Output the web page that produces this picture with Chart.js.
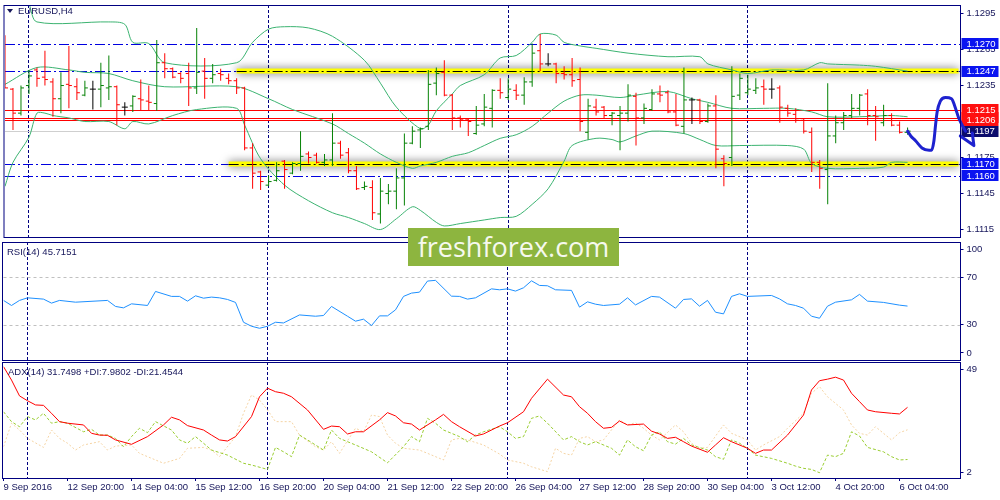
<!DOCTYPE html>
<html>
<head>
<meta charset="utf-8">
<script src="https://cdn.jsdelivr.net/npm/chart.js@4.4.1/dist/chart.umd.min.js"></script>
<style>
  html, body { margin: 0; padding: 0; background: #fff; }
  #wrap { position: relative; width: 1000px; height: 500px; overflow: hidden; font-family: "Liberation Sans", Arial, sans-serif; }
  .pane { position: absolute; left: 0; width: 1000px; }
  .txt { position: absolute; font-size: 9.5px; line-height: 12px; color: #15155a; white-space: nowrap; }
  .tri { position: absolute; left: 7px; top: 9px; width: 0; height: 0; border-left: 3px solid transparent; border-right: 3px solid transparent; border-top: 4px solid #15155a; }
  #logo { position: absolute; left: 408px; top: 228px; width: 211px; height: 38px; background: #8db53f; color: #f6f9ee;
          font-family: "Open Sans", sans-serif; font-size: 27px; line-height: 38px; text-align: center; }
</style>
</head>
<body>
<div id="wrap">
  <div class="pane" style="top:0;height:242px"><canvas id="price"></canvas></div>
  <div class="pane" style="top:241px;height:121px"><canvas id="rsi"></canvas></div>
  <div class="pane" style="top:361px;height:139px"><canvas id="adx"></canvas></div>
  <div class="tri"></div>
  <div class="txt" style="left:18px;top:5px">EURUSD,H4</div>
  <div class="txt" style="left:7px;top:246px">RSI(14) 45.7151</div>
  <div class="txt" style="left:8px;top:366px">ADX(14) 31.7498 +DI:7.9802 -DI:21.4544</div>
  <div id="logo">freshforex.com</div>
</div>
<script>
// EURUSD H4, 9 Sep 2016 12:00 .. 6 Oct 2016 08:00 (one value per bar)
const open = [1.1263,1.1232,1.1212,1.1235,1.1248,1.1242,1.1238,1.1224,1.1236,1.1234,1.1227,1.1232,1.1232,1.1233,1.1234,1.1217,1.1218,1.1224,1.1222,1.1220,
  1.1254,1.1249,1.1245,1.1245,1.1233,1.1247,1.1241,1.1245,1.1241,1.1239,1.1233,1.1183,1.1163,1.1152,1.1156,1.1172,1.1162,1.1170,1.1178,1.1177,
  1.1171,1.1173,1.1187,1.1179,1.1164,1.1150,1.1150,1.1128,1.1145,1.1147,1.1158,1.1187,1.1198,1.1201,1.1237,1.1246,1.1227,1.1208,1.1207,1.1195,
  1.1203,1.1216,1.1231,1.1225,1.1231,1.1227,1.1238,1.1264,1.1253,1.1253,1.1245,1.1244,1.1240,1.1196,1.1217,1.1217,1.1210,1.1210,1.1212,1.1226,
  1.1208,1.1215,1.1228,1.1229,1.1213,1.1201,1.1223,1.1223,1.1205,1.1218,1.1174,1.1175,1.1227,1.1229,1.1231,1.1234,1.1232,1.1233,1.1216,1.1211,
  1.1206,1.1196,1.1171,1.1165,1.1193,1.1204,1.1210,1.1216,1.1228,1.1210,1.1204,1.1210,1.1202,1.1196];
const high = [1.1277,1.1233,1.1235,1.1248,1.1250,1.1264,1.1241,1.1246,1.1268,1.1241,1.1239,1.1239,1.1254,1.1260,1.1235,1.1221,1.1227,1.1240,1.1235,1.1273,
  1.1262,1.1250,1.1246,1.1254,1.1283,1.1258,1.1253,1.1249,1.1245,1.1241,1.1234,1.1187,1.1164,1.1160,1.1171,1.1173,1.1171,1.1197,1.1180,1.1179,
  1.1178,1.1212,1.1189,1.1183,1.1168,1.1155,1.1156,1.1158,1.1153,1.1166,1.1195,1.1201,1.1200,1.1248,1.1250,1.1256,1.1228,1.1210,1.1208,1.1218,
  1.1228,1.1232,1.1241,1.1241,1.1236,1.1242,1.1270,1.1278,1.1262,1.1254,1.1251,1.1258,1.1250,1.1224,1.1224,1.1218,1.1213,1.1218,1.1236,1.1229,
  1.1220,1.1232,1.1235,1.1231,1.1228,1.1250,1.1225,1.1224,1.1220,1.1227,1.1177,1.1251,1.1245,1.1244,1.1241,1.1240,1.1241,1.1235,1.1219,1.1216,
  1.1208,1.1200,1.1173,1.1237,1.1210,1.1213,1.1228,1.1228,1.1232,1.1218,1.1219,1.1212,1.1205,1.1200];
const low = [1.1233,1.1198,1.1210,1.1228,1.1234,1.1235,1.1209,1.1212,1.1216,1.1223,1.1226,1.1215,1.1217,1.1223,1.1202,1.1210,1.1213,1.1214,1.1214,1.1214,
  1.1241,1.1241,1.1237,1.1218,1.1228,1.1224,1.1237,1.1239,1.1236,1.1228,1.1181,1.1149,1.1148,1.1151,1.1155,1.1149,1.1161,1.1164,1.1170,1.1170,
  1.1168,1.1168,1.1174,1.1162,1.1148,1.1148,1.1123,1.1120,1.1136,1.1132,1.1135,1.1186,1.1183,1.1198,1.1227,1.1226,1.1198,1.1200,1.1193,1.1194,
  1.1201,1.1200,1.1224,1.1223,1.1223,1.1219,1.1234,1.1247,1.1251,1.1237,1.1240,1.1234,1.1197,1.1190,1.1210,1.1208,1.1202,1.1181,1.1205,1.1185,
  1.1203,1.1214,1.1221,1.1212,1.1201,1.1195,1.1203,1.1203,1.1204,1.1166,1.1151,1.1168,1.1223,1.1227,1.1228,1.1219,1.1224,1.1204,1.1209,1.1204,
  1.1195,1.1163,1.1149,1.1136,1.1187,1.1198,1.1208,1.1210,1.1202,1.1189,1.1201,1.1201,1.1195,1.1194];
const close = [1.1233,1.1212,1.1233,1.1243,1.1241,1.1240,1.1224,1.1235,1.1235,1.1229,1.1233,1.1232,1.1235,1.1234,1.1219,1.1217,1.1226,1.1223,1.1221,1.1254,
  1.1249,1.1242,1.1241,1.1233,1.1246,1.1241,1.1244,1.1244,1.1239,1.1233,1.1183,1.1162,1.1155,1.1155,1.1164,1.1165,1.1170,1.1176,1.1175,1.1171,
  1.1173,1.1187,1.1177,1.1164,1.1149,1.1151,1.1129,1.1147,1.1147,1.1158,1.1187,1.1197,1.1199,1.1236,1.1245,1.1227,1.1208,1.1207,1.1205,1.1202,
  1.1217,1.1231,1.1229,1.1232,1.1227,1.1238,1.1262,1.1253,1.1253,1.1245,1.1244,1.1239,1.1205,1.1218,1.1213,1.1210,1.1212,1.1212,1.1227,1.1208,
  1.1216,1.1228,1.1227,1.1213,1.1202,1.1223,1.1223,1.1205,1.1218,1.1182,1.1170,1.1226,1.1241,1.1232,1.1233,1.1232,1.1232,1.1217,1.1212,1.1206,
  1.1197,1.1171,1.1166,1.1193,1.1204,1.1210,1.1216,1.1227,1.1210,1.1209,1.1210,1.1202,1.1196,1.1197];

// Bollinger Bands (20), read at the bends of each curve
const bbUpperBars = [0,3,4,13,15,16,18,20,29,31,33,35,38,41,45,47,49,52,53,54,56,57,60,62,64,66,67,69,70,72,74,78,83,87,88,91,93,96,100,102,103,107,109,113];
const bbUpper = [1.1340,1.1303,1.1288,1.1288,1.1286,1.1271,1.1270,1.1254,1.1254,1.1271,1.1282,1.1284,1.1283,1.1276,1.1256,1.1237,1.1217,1.1199,1.1202,1.1214,
  1.1228,1.1235,1.1244,1.1258,1.1260,1.1271,1.1278,1.1277,1.1271,1.1268,1.1266,1.1262,1.1259,1.1259,1.1253,1.1248,1.1245,1.1248,1.1248,1.1254,
  1.1253,1.1252,1.1251,1.1247];
const bbMiddleBars = [0,4,8,10,13,16,20,29,33,36,41,43,45,47,49,51,52,54,56,58,60,62,64,66,68,70,72,74,77,79,83,86,88,91,95,98,101,103,107,111,113];
const bbMiddle = [1.1236,1.1250,1.1248,1.1246,1.1245,1.1239,1.1234,1.1234,1.1224,1.1215,1.1203,1.1195,1.1187,1.1178,1.1171,1.1166,1.1168,1.1171,1.1176,1.1179,
  1.1185,1.1191,1.1194,1.1201,1.1212,1.1222,1.1227,1.1227,1.1225,1.1227,1.1230,1.1224,1.1221,1.1216,1.1216,1.1216,1.1213,1.1209,1.1209,1.1210,1.1209];
const bbLowerBars = [0,1,3,4,5,6,8,10,13,15,16,18,21,24,29,30,32,35,38,41,43,45,47,49,51,52,54,55,57,60,62,64,66,68,70,71,74,76,77,79,81,85,87,89,92,98,100,101,103,107,110,111,113];
const bbLower = [1.1151,1.1171,1.1192,1.1212,1.1212,1.1210,1.1208,1.1205,1.1205,1.1199,1.1205,1.1203,1.1210,1.1215,1.1216,1.1202,1.1174,1.1152,1.1139,1.1129,
  1.1125,1.1120,1.1115,1.1124,1.1134,1.1131,1.1121,1.1118,1.1120,1.1123,1.1125,1.1126,1.1136,1.1149,1.1172,1.1185,1.1191,1.1190,1.1188,1.1193,
  1.1197,1.1195,1.1190,1.1185,1.1185,1.1185,1.1182,1.1170,1.1166,1.1166,1.1167,1.1171,1.1171];

// RSI(14)
const rsiBars = [0,1,2,3,5,6,7,9,13,14,15,16,18,19,21,22,23,24,25,26,27,28,29,30,31,32,33,34,35,37,39,40,41,43,44,45,46,47,48,49,50,51,52,53,54,56,57,58,59,
  61,62,63,64,65,66,67,68,69,71,72,73,74,75,77,78,79,81,82,84,85,86,87,88,89,90,91,92,93,96,97,98,99,100,101,102,103,104,106,107,108,110,112,113];
const rsiValues = [50.5,46.2,50.5,52.7,51.6,48.2,50.5,49.0,50.5,45.4,44.2,47.6,46.2,58.1,53.9,53.9,49.9,54.4,52.4,53.3,52.7,51.3,48.8,32.0,28.6,26.9,28.6,32.0,31.4,
  38.2,37.1,37.7,45.4,37.1,32.9,34.6,29.2,37.4,37.4,42.5,53.9,56.7,57.5,66.9,67.5,54.1,53.9,51.6,52.7,60.3,59.5,60.3,58.4,61.2,67.1,63.2,62.9,59.5,
  59.0,44.8,49.3,47.3,46.2,47.3,52.7,46.7,53.9,53.3,43.9,51.3,51.8,45.6,50.5,40.5,39.1,53.9,56.1,53.9,54.7,51.8,47.6,46.2,43.9,37.1,35.4,45.6,49.0,
  51.0,55.6,49.9,48.8,46.5,45.7];

// ADX(14), +DI, -DI
const adxBars = [0,1,2,3,4,5,6,7,8,10,11,12,13,14,16,18,20,21,22,23,25,26,27,28,29,31,32,33,34,35,36,38,40,41,42,43,44,45,47,48,49,50,51,52,54,55,56,57,59,60,
  62,63,65,66,68,70,71,72,73,74,75,76,77,78,80,81,82,83,84,85,86,88,89,90,91,93,94,95,96,98,100,101,102,103,104,105,106,107,108,109,111,112,113];
const adxValues = [50.2,44.1,36.9,34.7,32.8,32.6,29.0,25.2,24.5,23.7,19.9,19.1,19.0,16.9,14.9,18.4,23.7,27.2,26.0,23.4,21.4,19.1,16.9,16.4,18.4,27.5,36.5,40.4,38.8,
  38.1,36.5,30.5,21.7,23.2,22.9,19.6,20.6,20.6,26.0,29.3,27.8,24.7,24.1,21.4,26.0,28.5,25.2,22.9,18.7,19.6,23.2,24.7,29.7,35.8,44.5,37.3,36.5,32.0,
  29.0,25.2,22.2,22.6,25.5,23.7,24.1,20.9,19.6,17.6,18.1,16.1,14.1,11.3,14.6,17.9,16.1,13.1,10.8,12.3,12.3,19.1,28.2,39.6,43.8,44.5,45.4,44.1,38.1,
  34.3,30.5,29.7,29.0,28.7,31.7];
const plusBars = [0,1,2,3,4,5,6,7,8,10,11,12,13,14,15,16,17,18,19,21,22,23,24,25,26,28,30,31,33,34,35,36,37,38,40,41,42,44,46,48,50,51,52,53,54,55,57,58,59,60,
  62,63,64,65,66,67,68,70,71,72,73,74,76,77,78,79,80,81,82,83,84,85,86,88,89,90,91,92,93,94,96,98,99,100,101,102,103,104,105,106,107,108,110,111,112,113];
const plusDI = [29.7,25.2,22.9,27.5,26.0,29.0,24.5,25.2,24.5,20.6,21.7,19.1,19.1,17.6,13.8,18.4,22.2,20.2,25.2,21.4,16.9,15.4,18.4,15.4,12.3,10.0,6.3,5.5,3.5,13.5,
  11.5,9.3,19.1,16.9,12.3,21.4,17.6,14.6,11.5,6.5,13.8,18.4,16.1,26.7,24.5,21.4,18.4,16.1,19.1,20.6,22.9,20.6,17.6,18.4,26.7,27.8,24.5,16.9,18.4,16.1,
  14.6,16.1,13.1,10.0,16.9,13.8,12.0,19.1,20.6,16.1,15.0,17.6,14.6,12.3,9.3,8.1,16.9,15.4,13.1,10.0,8.5,6.3,5.0,4.0,3.5,2.0,10.0,9.3,10.8,20.6,
  18.7,13.5,11.5,9.3,7.8,8.0];
const minusBars = [0,1,2,3,5,6,7,8,9,10,12,13,14,16,17,19,20,22,23,25,26,27,29,30,31,32,33,34,36,37,39,40,41,42,44,45,46,47,48,49,50,52,53,55,56,57,58,60,62,63,
  65,66,68,69,70,71,72,73,74,75,77,78,79,80,81,82,84,85,86,87,88,90,91,93,94,95,97,98,100,101,102,103,105,106,107,108,109,110,111,112,113];
const minusDI = [13.8,24.5,21.4,17.6,13.5,21.4,17.6,15.4,12.3,14.6,16.1,12.3,14.1,14.6,10.8,7.8,6.3,8.5,13.1,13.5,12.3,9.3,18.4,29.0,37.3,35.0,30.5,25.2,25.2,19.1,
  13.8,12.3,16.1,10.8,22.2,20.6,28.2,27.5,19.1,15.4,13.1,12.3,10.8,7.8,16.9,17.6,16.9,14.6,10.5,7.8,6.3,4.7,2.5,13.1,10.8,10.0,17.6,18.4,16.1,16.9,
  26.0,23.7,24.7,22.2,19.1,16.9,23.7,20.6,15.4,13.1,13.5,23.7,19.9,16.9,12.3,14.6,18.4,22.2,29.0,38.1,41.1,36.5,30.5,23.7,19.9,19.1,22.9,19.9,16.9,
  20.2,21.5];

// hand drawn forecast
const forecastBars = [113,113.4,114,114.8,115.7,116,116.3,116.5,116.7,117.1,117.75,118.5,118.9,119.4,120.25,121.3];
const forecastPrices = [1.1197,1.1193,1.1189,1.1183,1.1181,1.1181,1.1189,1.1202,1.1213,1.1222,1.1225,1.1224,1.1218,1.1208,1.1197,1.1185];
const arrowBars = [119.6,121.3,121.1];
const arrowPrices = [1.1193,1.1185,1.11955];

// chart objects and axes
const xLabels = ['9 Sep 2016','12 Sep 20:00','14 Sep 04:00','15 Sep 12:00','16 Sep 20:00','20 Sep 04:00','21 Sep 12:00','22 Sep 20:00',
  '26 Sep 04:00','27 Sep 12:00','28 Sep 20:00','30 Sep 04:00','3 Oct 12:00','4 Oct 20:00','6 Oct 04:00'];
const weekStarts = [3,33,63,93];
const priceTicks = [1.1115,1.1145,1.1175,1.1205,1.1235,1.1265,1.1295];
const dashLevels = [1.1270,1.1247,1.1170,1.1160];
const bandLevels = [1.1247,1.1170];
const bandFrom = [29,28];
const redLevels = [1.1208,1.1215,1.1206];
const bidPrice = 1.1197;
const rsiTicks = [0,30,70,100];
const rsiLevels = [30,70];
const adxTicks = [2,49];

const NAVY = '#000080';
const TEXT = '#15155a';
const UP = '#058205';
const DOWN = '#ff0000';
const BB = '#3cb371';
const DASHDOT = [10,3,2,3];
const FONT = '"Liberation Sans", Arial, sans-serif';

Chart.defaults.font.family = FONT;
Chart.defaults.font.size = 9.5;
Chart.defaults.color = TEXT;
Chart.defaults.animation = false;
Chart.defaults.events = [];
Chart.defaults.plugins.legend.display = false;
Chart.defaults.plugins.tooltip.enabled = false;

const barIdx = open.map((_, i) => i);
const barColor = barIdx.map(i => close[i] > open[i] ? UP : (close[i] < open[i] ? DOWN : '#000000'));
const pts = (xs, ys) => xs.map((x, i) => ({ x: x, y: ys[i] }));

function xAxis(show) {
  const s = {
    type: 'linear', min: 0, max: 119.625, offset: false, display: show, position: 'bottom',
    grid: { display: true, offset: false, drawOnChartArea: false, tickLength: 3, color: NAVY },
    border: { display: false },
    ticks: { align: 'start', padding: 1, autoSkip: false, maxRotation: 0, callback: (v, i) => xLabels[i] },
    afterBuildTicks: sc => { sc.ticks = xLabels.map((_, i) => ({ value: i * 8 })); }
  };
  if (show) s.afterFit = sc => { sc.height = 22; sc.paddingLeft = 0; sc.paddingRight = 0; };
  return s;
}

function yAxis(min, max, ticks, label, clampTo) {
  return {
    type: 'linear', position: 'right', min: min, max: max,
    grid: { drawOnChartArea: false, tickLength: 3, color: NAVY },
    border: { display: false },
    ticks: { padding: 3, autoSkip: false, callback: (v, i) => label(ticks[i]) },
    afterBuildTicks: sc => { sc.ticks = ticks.map(v => ({ value: clampTo ? Math.min(Math.max(v, clampTo[0]), clampTo[1]) : v })); },
    afterFit: sc => { sc.width = 39.5; sc.paddingTop = 0; sc.paddingBottom = 0; }
  };
}

function hline(ctx, y, x0, x1, color, width, dash) {
  ctx.save();
  ctx.strokeStyle = color; ctx.lineWidth = width; ctx.setLineDash(dash);
  ctx.beginPath(); ctx.moveTo(x0, y); ctx.lineTo(x1, y); ctx.stroke();
  ctx.restore();
}

function frame(drawUnder) {
  return {
    id: 'frame',
    beforeDatasetsDraw(chart) {
      const { ctx, chartArea: a, scales } = chart;
      ctx.save();
      ctx.strokeStyle = NAVY; ctx.lineWidth = 1; ctx.setLineDash([3, 2]);
      weekStarts.forEach(i => {
        const px = Math.floor(scales.x.getPixelForValue(i)) + 0.5;
        ctx.beginPath(); ctx.moveTo(px, a.top); ctx.lineTo(px, a.bottom); ctx.stroke();
      });
      ctx.restore();
      if (drawUnder) drawUnder(chart);
    },
    afterDraw(chart) {
      const { ctx, chartArea: a } = chart;
      ctx.save();
      ctx.strokeStyle = NAVY; ctx.lineWidth = 1;
      ctx.strokeRect(a.left - 1, a.top + 0.5, a.right - a.left + 1, a.bottom - a.top);
      ctx.restore();
    }
  };
}

function priceObjects(chart) {
  const { ctx, chartArea: a, scales: { x, y } } = chart;
  const py = v => Math.round(y.getPixelForValue(v)) + 0.5;
  hline(ctx, py(bidPrice), a.left, a.right, '#cfcfcf', 1, []);
  redLevels.forEach(v => hline(ctx, py(v), a.left, a.right, '#ff0000', 1.2, []));
  dashLevels.forEach(v => hline(ctx, py(v), a.left, a.right, '#0000e0', 1, DASHDOT));
  bandLevels.forEach((v, k) => {
    const x0 = x.getPixelForValue(bandFrom[k]);
    ctx.save();
    ctx.shadowColor = 'rgba(0,0,0,0.6)'; ctx.shadowBlur = 8;
    hline(ctx, py(v) - 0.5, x0, a.right - 2, '#ffff00', 5, []);
    ctx.restore();
    hline(ctx, py(v), x0, a.right - 2, '#000000', 1, DASHDOT);
  });
  // price marks on the axis
  const marks = dashLevels.map(v => [v, '#0a14f0']).concat(redLevels.map(v => [v, '#ff1010']), [[bidPrice, '#0c0c6c']]);
  ctx.save();
  ctx.font = '9.5px ' + FONT; ctx.textBaseline = 'middle'; ctx.textAlign = 'left';
  marks.forEach(m => {
    const cy = y.getPixelForValue(m[0]);
    ctx.fillStyle = m[1]; ctx.fillRect(a.right + 1, Math.round(cy - 5.5), 37, 11);
    ctx.fillStyle = '#ffffff'; ctx.fillText(m[0].toFixed(4), a.right + 6, cy + 0.5);
  });
  ctx.restore();
}

function rsiObjects(chart) {
  const { ctx, chartArea: a, scales: { y } } = chart;
  rsiLevels.forEach(v => hline(ctx, Math.round(y.getPixelForValue(v)) + 0.5, a.left, a.right, '#c0c0c0', 1, [3, 3]));
}

const lineDs = (data, color, extra) => Object.assign({ type: 'line', data: data, borderColor: color, borderWidth: 1, pointRadius: 0, tension: 0 }, extra || {});

new Chart(document.getElementById('price'), {
  type: 'bar',
  data: {
    datasets: [
      lineDs(pts(forecastBars, forecastPrices), '#1e22cf', { borderWidth: 3, cubicInterpolationMode: 'monotone', clip: false, borderCapStyle: 'round', borderJoinStyle: 'round' }),
      lineDs(pts(arrowBars, arrowPrices), '#1e22cf', { borderWidth: 3, clip: false, borderCapStyle: 'round', borderJoinStyle: 'round' }),
      { type: 'scatter', data: pts(barIdx, open), pointStyle: 'dash', pointRotation: 180, pointRadius: 3, pointBorderWidth: 1, pointBorderColor: barColor, pointBackgroundColor: barColor },
      { type: 'scatter', data: pts(barIdx, close), pointStyle: 'dash', pointRotation: 0, pointRadius: 3, pointBorderWidth: 1, pointBorderColor: barColor, pointBackgroundColor: barColor },
      { type: 'bar', data: barIdx.map(i => ({ x: i, y: [low[i], high[i]] })), backgroundColor: barColor, barThickness: 1, borderWidth: 0, inflateAmount: 0 },
      lineDs(pts(bbUpperBars, bbUpper), BB, { tension: 0.3 }),
      lineDs(pts(bbMiddleBars, bbMiddle), BB, { tension: 0.3 }),
      lineDs(pts(bbLowerBars, bbLower), BB, { tension: 0.3 })
    ]
  },
  options: {
    responsive: true, maintainAspectRatio: false,
    layout: { padding: { left: 3.5, top: 2, right: 0, bottom: 2 } },
    scales: {
      x: xAxis(false),
      y: yAxis(1.11088, 1.13021, priceTicks, v => v.toFixed(4))
    }
  },
  plugins: [frame(priceObjects)]
});

new Chart(document.getElementById('rsi'), {
  type: 'line',
  data: { datasets: [lineDs(pts(rsiBars, rsiValues), '#1e90ff')] },
  options: {
    responsive: true, maintainAspectRatio: false,
    layout: { padding: { left: 3.5, top: 1, right: 0, bottom: 2 } },
    scales: {
      x: xAxis(false),
      y: yAxis(0, 100, rsiTicks, v => String(v), [6, 94])
    }
  },
  plugins: [frame(rsiObjects)]
});

new Chart(document.getElementById('adx'), {
  type: 'line',
  data: {
    datasets: [
      lineDs(pts(adxBars, adxValues), '#ff0000'),
      lineDs(pts(plusBars, plusDI), '#9acd32', { borderDash: [3, 2] }),
      lineDs(pts(minusBars, minusDI), '#f5d4a4', { borderDash: [2, 2] })
    ]
  },
  options: {
    responsive: true, maintainAspectRatio: false,
    layout: { padding: { left: 3.5, top: 1, right: 0, bottom: 0 } },
    scales: {
      x: xAxis(true),
      y: yAxis(-0.4, 52.3, adxTicks, v => String(v))
    }
  },
  plugins: [frame(null)]
});
</script>
</body>
</html>
